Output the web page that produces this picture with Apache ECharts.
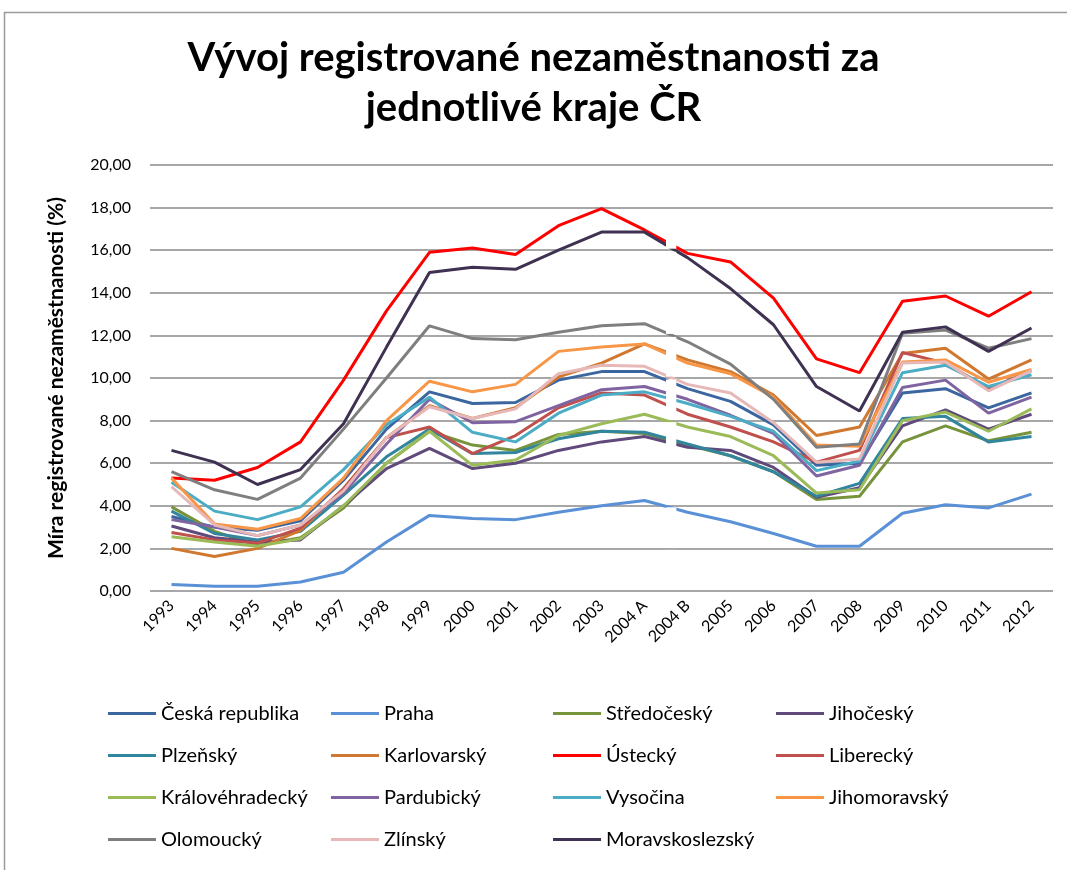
<!DOCTYPE html>
<html>
<head>
<meta charset="utf-8">
<script src="https://cdn.jsdelivr.net/npm/echarts/dist/echarts.min.js"></script>
<style>
html, body { margin: 0; padding: 0; background: #fff; }
#chart { width: 1067px; height: 870px; }
</style>
</head>
<body>
<div id="chart"></div>
<script>
// roky (2004 rozdělen na A/B - změna metodiky)
var roky = ['1993','1994','1995','1996','1997','1998','1999','2000','2001','2002','2003','2004 A',
            '2004 B','2005','2006','2007','2008','2009','2010','2011','2012'];

var ceskaRepublika  = [3.5, 3.0, 2.85, 3.3, 5.2, 7.6, 9.35, 8.8, 8.85, 9.9, 10.3, 10.3, 9.5, 8.9, 7.8, 5.9, 6.0, 9.3, 9.5, 8.6, 9.3];
var praha           = [0.3, 0.22, 0.22, 0.42, 0.88, 2.3, 3.55, 3.4, 3.35, 3.7, 4.0, 4.25, 3.7, 3.25, 2.7, 2.1, 2.1, 3.65, 4.05, 3.9, 4.55];
var stredocesky     = [3.95, 2.8, 2.15, 2.5, 3.9, 6.0, 7.5, 6.85, 6.6, 7.35, 7.5, 7.4, 6.85, 6.35, 5.6, 4.3, 4.45, 7.0, 7.75, 7.05, 7.45];
var jihocesky       = [3.05, 2.5, 2.3, 2.4, 4.0, 5.75, 6.7, 5.75, 6.0, 6.6, 7.0, 7.25, 6.75, 6.6, 5.8, 4.4, 4.85, 7.75, 8.5, 7.6, 8.3];
var plzensky        = [3.75, 2.7, 2.4, 2.8, 4.5, 6.3, 7.6, 6.45, 6.5, 7.15, 7.5, 7.45, 6.9, 6.35, 5.6, 4.45, 5.05, 8.1, 8.2, 7.0, 7.25];
var karlovarsky     = [2.0, 1.62, 2.0, 2.85, 4.8, 7.2, 8.7, 8.1, 8.6, 10.05, 10.7, 11.6, 10.85, 10.3, 9.2, 7.3, 7.7, 11.15, 11.4, 9.95, 10.85];
var ustecky         = [5.3, 5.2, 5.8, 7.0, 9.9, 13.15, 15.9, 16.1, 15.8, 17.15, 17.95, 16.95, 15.85, 15.45, 13.75, 10.9, 10.25, 13.6, 13.85, 12.9, 14.05];
var liberecky       = [2.75, 2.4, 2.25, 2.95, 4.8, 7.2, 7.7, 6.45, 7.3, 8.6, 9.3, 9.2, 8.3, 7.7, 7.0, 6.05, 6.6, 11.2, 10.7, 9.5, 10.35];
var kralovehradecky = [2.55, 2.3, 2.1, 2.45, 4.0, 6.0, 7.5, 5.9, 6.15, 7.3, 7.85, 8.3, 7.7, 7.25, 6.35, 4.6, 4.75, 8.0, 8.4, 7.5, 8.55];
var pardubicky      = [3.35, 3.0, 2.6, 3.1, 4.6, 6.9, 9.0, 7.9, 7.95, 8.7, 9.45, 9.6, 9.0, 8.25, 7.4, 5.4, 5.9, 9.55, 9.9, 8.35, 9.1];
var vysocina        = [5.1, 3.75, 3.35, 3.95, 5.7, 7.8, 9.1, 7.45, 7.0, 8.35, 9.2, 9.35, 8.8, 8.2, 7.5, 5.65, 6.1, 10.25, 10.6, 9.6, 10.15];
var jihomoravsky    = [5.3, 3.15, 2.9, 3.4, 5.3, 8.0, 9.85, 9.35, 9.7, 11.25, 11.45, 11.6, 10.7, 10.2, 9.1, 6.85, 6.8, 10.75, 10.85, 9.8, 10.4];
var olomoucky       = [5.6, 4.75, 4.3, 5.3, 7.6, 10.0, 12.45, 11.85, 11.8, 12.15, 12.45, 12.55, 11.7, 10.65, 9.0, 6.75, 6.9, 12.1, 12.25, 11.4, 11.85];
var zlinsky         = [4.9, 3.1, 2.6, 3.1, 4.7, 7.2, 8.65, 8.1, 8.55, 10.2, 10.6, 10.55, 9.7, 9.3, 7.9, 6.05, 6.2, 10.7, 10.75, 9.4, 10.35];
var moravskoslezsky = [6.6, 6.05, 5.0, 5.7, 7.85, 11.45, 14.95, 15.2, 15.1, 16.0, 16.85, 16.85, 15.65, 14.2, 12.5, 9.6, 8.45, 12.15, 12.4, 11.25, 12.35];

var kraje = [
	{ name: 'Česká republika', data: ceskaRepublika, color: '#3b66a0' },
	{ name: 'Praha', data: praha, color: '#5990d6' },
	{ name: 'Středočeský', data: stredocesky, color: '#77933c' },
	{ name: 'Jihočeský', data: jihocesky, color: '#604a7b' },
	{ name: 'Plzeňský', data: plzensky, color: '#31859c' },
	{ name: 'Karlovarský', data: karlovarsky, color: '#d0782f' },
	{ name: 'Ústecký', data: ustecky, color: '#ff0000' },
	{ name: 'Liberecký', data: liberecky, color: '#c0504d' },
	{ name: 'Královéhradecký', data: kralovehradecky, color: '#9bbb59' },
	{ name: 'Pardubický', data: pardubicky, color: '#8064a2' },
	{ name: 'Vysočina', data: vysocina, color: '#4bacc6' },
	{ name: 'Jihomoravský', data: jihomoravsky, color: '#f79646' },
	{ name: 'Olomoucký', data: olomoucky, color: '#7f7f7f' },
	{ name: 'Zlínský', data: zlinsky, color: '#e6b9b8' },
	{ name: 'Moravskoslezský', data: moravskoslezsky, color: '#3f3151' }
];

var font = 'Lato, "Open Sans", sans-serif';
var legendLeft = [108, 331, 553, 776];

function legendColumn(col) {
	var names = [];
	for (var i = col; i < kraje.length; i += 4) names.push(kraje[i].name);
	return {
		orient: 'vertical',
		left: legendLeft[col],
		top: 703,
		padding: 0,
		itemWidth: 48,
		itemHeight: 3,
		itemGap: 21,
		icon: 'rect',
		textStyle: { fontFamily: font, fontSize: 20, lineHeight: 21, color: '#000' },
		data: names
	};
}

var myChart = echarts.init(document.getElementById('chart'));

myChart.setOption({
	backgroundColor: '#fff',
	animation: false,
	title: {
		text: 'Vývoj registrované nezaměstnanosti za\njednotlivé kraje ČR',
		left: 'center',
		top: 28,
		textStyle: { fontFamily: font, fontSize: 40, fontWeight: 'bold', color: '#000', lineHeight: 50 }
	},
	legend: [legendColumn(0), legendColumn(1), legendColumn(2), legendColumn(3)],
	grid: { left: 150, right: 14, top: 165, bottom: 279 },
	xAxis: {
		type: 'category',
		data: roky,
		boundaryGap: true,
		axisLine: { show: false },
		axisTick: { show: false },
		axisLabel: { rotate: 45, margin: 12, fontFamily: font, fontSize: 16, color: '#000', interval: 0 }
	},
	yAxis: {
		type: 'value',
		min: 0,
		max: 20,
		interval: 2,
		name: 'Míra registrované nezaměstnanosti (%)',
		nameLocation: 'middle',
		nameRotate: 90,
		nameGap: 83,
		nameTextStyle: { fontFamily: font, fontSize: 21, fontWeight: 'bold', color: '#000' },
		axisLine: { show: false },
		axisTick: { show: false },
		axisLabel: {
			margin: 19, fontFamily: font, fontSize: 16, color: '#000',
			formatter: function (v) { return v.toFixed(2).replace('.', ','); }
		},
		splitLine: { lineStyle: { color: '#8a8a8a', width: 1.5 } }
	},
	series: kraje.map(function (k) {
		return {
			name: k.name,
			type: 'line',
			data: k.data,
			showSymbol: false,
			color: k.color,
			lineStyle: { width: 3, color: k.color }
		};
	})
});

// rámeček a bílá mezera mezi 2004 A a 2004 B
var xA = myChart.convertToPixel({ xAxisIndex: 0 }, roky[11]);
var xB = myChart.convertToPixel({ xAxisIndex: 0 }, roky[12]);
var gapX = xA + (xB - xA) * 0.5;
var gapW = (xB - xA) * 0.24;
var graphics = [{
	type: 'rect',
	shape: { x: 4.5, y: 12.5, width: 1100, height: 900 },
	style: { fill: null, stroke: '#9a9a9a', lineWidth: 1.5 },
	silent: true
}];
for (var v = 0; v < 20; v += 2) {
	var yLow = myChart.convertToPixel({ yAxisIndex: 0 }, v);
	var yHigh = myChart.convertToPixel({ yAxisIndex: 0 }, v + 2);
	graphics.push({
		type: 'rect',
		z: 100,
		shape: { x: gapX, y: yHigh + 1.5, width: gapW, height: yLow - yHigh - 3 },
		style: { fill: '#fff' },
		silent: true
	});
}
myChart.setOption({ graphic: graphics });
</script>
</body>
</html>
